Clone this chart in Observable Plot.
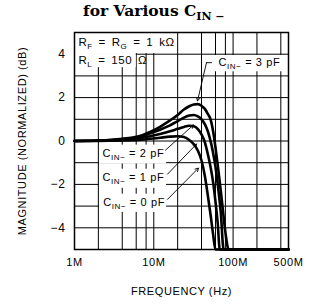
<!DOCTYPE html>
<html>
<head>
<meta charset="utf-8">
<script src="https://cdn.jsdelivr.net/npm/d3@7"></script>
<script src="https://cdn.jsdelivr.net/npm/@observablehq/plot@0.6"></script>
<style>
  html, body { margin: 0; padding: 0; background: white; }
  #wrap { position: relative; width: 310px; height: 305px; overflow: hidden; }
  #title { position: absolute; left: 83px; top: 1px; font: bold 15.5px "DejaVu Serif", serif; color: black; white-space: nowrap; }
  #title sub { font-size: 11px; vertical-align: -4px; line-height: 0; }
  svg text { letter-spacing: 0.6px; }
  svg .cond text { word-spacing: 2px; }
</style>
</head>
<body>
<div id="wrap">
  <div id="title">for Various C<sub>IN −</sub></div>
  <div id="chart"></div>
</div>
<script>
// ---- data (frequency in MHz, magnitude in dB) ----
const freq3 = [1, 2, 4, 7, 9, 12, 16, 20, 24, 28, 32, 36, 40, 44, 48, 52, 56, 60, 65, 70, 75, 80, 88, 500];
const mag3  = [0, 0.02, 0.1, 0.25, 0.42, 0.65, 0.95, 1.2, 1.45, 1.6, 1.68, 1.7, 1.62, 1.48, 1.25, 1.0, 0.45, -0.3, -1.3, -2.3, -3.3, -4.2, -5, -5];
const freq2 = [1, 2, 4, 7, 9, 12, 16, 20, 24, 28, 32, 36, 40, 44, 48, 52, 56, 60, 65, 70, 76, 500];
const mag2  = [0, 0.02, 0.08, 0.2, 0.35, 0.52, 0.72, 0.92, 1.08, 1.17, 1.2, 1.13, 1.0, 0.78, 0.45, 0.0, -0.55, -1.2, -2.2, -3.3, -5, -5];
const freq1 = [1, 2, 4, 7, 9, 12, 16, 20, 24, 28, 32, 36, 40, 44, 48, 52, 56, 60, 64, 68, 500];
const mag1  = [0, 0.01, 0.05, 0.14, 0.22, 0.32, 0.45, 0.56, 0.65, 0.7, 0.68, 0.55, 0.3, -0.05, -0.6, -1.2, -1.9, -2.8, -3.8, -5, -5];
const freq0 = [1, 2, 4, 7, 9, 12, 16, 20, 24, 28, 32, 36, 40, 44, 48, 52, 56, 60, 500];
const mag0  = [0, 0, 0.02, 0.06, 0.1, 0.15, 0.2, 0.22, 0.18, 0.05, -0.15, -0.45, -0.9, -1.6, -2.5, -3.4, -4.3, -5, -5];

const xTicks = [1, 10, 100, 500];
const xTickLabels = ["1M", "10M", "100M", "500M"];
const xGrid = [2, 4, 6, 8, 10, 20, 40, 60, 80, 100, 200, 400];
const yTicks = [-4, -2, 0, 2, 4];
const yGrid = [-4, -3, -2, -1, 0, 1, 2, 3, 4];

// annotations (data coordinates)
const condText = ["R_{F} = R_{G} = 1 kΩ", "R_{L} = 150 Ω"];
const condX = [1.12, 1.12];
const condY = [4.54, 3.70];
const condBoxX1 = [1, 1], condBoxX2 = [19.5, 6.0], condBoxY1 = [5, 4.03], condBoxY2 = [4.03, 3.38];

const capText = ["C_{IN−} = 3 pF", "C_{IN−} = 2 pF", "C_{IN−} = 1 pF", "C_{IN−} = 0 pF"];
const capX = [65.4, 2.25, 2.25, 2.3];
const capY = [3.61, -0.56, -1.67, -2.82];
const capBoxX1 = [53.5, 2.07, 2.07, 2.07], capBoxX2 = [485, 14.5, 14.5, 14.5];
const capBoxY1 = [3.94, -0.19, -1.30, -2.45], capBoxY2 = [3.19, -1.06, -2.18, -3.29];

const arrowX1 = [46.2, 14.05, 14.9, 14.9], arrowY1 = [3.61, -0.42, -1.53, -2.69];
const arrowX2 = [35.6, 31.7, 34.6, 36.6], arrowY2 = [1.85, 0.74, -0.14, -1.25];
const leaderX = [53.5, 46.2], leaderY = [3.61, 3.61];

const series = [
  {f: freq3, m: mag3}, {f: freq2, m: mag2}, {f: freq1, m: mag1}, {f: freq0, m: mag0}
];
const rows = series.flatMap((s, k) => s.f.map((f, i) => ({k, f, m: s.m[i]})));
const idx = n => d3.range(n);

const chart = Plot.plot({
  width: 310, height: 305,
  marginTop: 32, marginRight: 22, marginBottom: 56, marginLeft: 74,
  style: {fontFamily: "'Liberation Sans', Arial, sans-serif", fontSize: "11px", color: "black", background: "white", overflow: "visible"},
  x: {type: "log", domain: [1, 500], axis: null},
  y: {domain: [-5, 5], axis: null},
  marks: [
    Plot.gridX(xGrid, {stroke: "black", strokeOpacity: 1, strokeWidth: 1}),
    Plot.gridY(yGrid, {stroke: "black", strokeOpacity: 1, strokeWidth: 1}),
    Plot.rect(idx(2), {x1: i => condBoxX1[i], x2: i => condBoxX2[i], y1: i => condBoxY1[i], y2: i => condBoxY2[i], fill: "white"}),
    Plot.rect(idx(4), {x1: i => capBoxX1[i], x2: i => capBoxX2[i], y1: i => capBoxY1[i], y2: i => capBoxY2[i], fill: "white"}),
    Plot.line(rows, {x: "f", y: "m", z: "k", stroke: "black", strokeWidth: 2.6, curve: "monotone-x"}),
    Plot.line(idx(2), {x: i => leaderX[i], y: i => leaderY[i], stroke: "black", strokeWidth: 0.9}),
    Plot.arrow(idx(4), {x1: i => arrowX1[i], y1: i => arrowY1[i], x2: i => arrowX2[i], y2: i => arrowY2[i], stroke: "black", strokeWidth: 0.9, headLength: 6}),
    Plot.text(idx(2), {x: i => condX[i], y: i => condY[i], text: i => condText[i], textAnchor: "start", fontSize: 11.5, className: "cond"}),
    Plot.text(idx(4), {x: i => capX[i], y: i => capY[i], text: i => capText[i], textAnchor: "start", fontSize: 11}),
    Plot.frame({stroke: "black", strokeWidth: 1.5}),
    Plot.text(xTicks, {x: d => d, text: (d, i) => xTickLabels[i], frameAnchor: "bottom", dy: 16, fontSize: 11}),
    Plot.text(yTicks, {y: d => d, text: d => d === 0 ? "0" : (d < 0 ? "−" + (-d) : String(d)), frameAnchor: "left", dx: -9, textAnchor: "end", fontSize: 12}),
    Plot.text(["MAGNITUDE (NORMALIZED) (dB)"], {text: d => d, frameAnchor: "left", dx: -52, rotate: -90, textAnchor: "middle", fontSize: 11}),
    Plot.text(["FREQUENCY (Hz)"], {text: d => d, frameAnchor: "bottom", dy: 45, textAnchor: "middle", fontSize: 11})
  ]
});

// turn "_{...}" into real subscript tspans
chart.querySelectorAll("text").forEach(t => {
  const s = t.textContent;
  if (!s.includes("_{")) return;
  const parts = s.split(/(_\{[^}]*\})/).filter(p => p);
  while (t.firstChild) t.removeChild(t.firstChild);
  let down = false;
  for (const p of parts) {
    const ts = document.createElementNS("http://www.w3.org/2000/svg", "tspan");
    if (p.startsWith("_{")) {
      ts.textContent = p.slice(2, -1);
      ts.setAttribute("font-size", "8");
      ts.setAttribute("dy", "3");
      down = true;
    } else {
      ts.textContent = p;
      if (down) { ts.setAttribute("dy", "-3"); down = false; }
    }
    t.appendChild(ts);
  }
});

document.getElementById("chart").appendChild(chart);
</script>
</body>
</html>
